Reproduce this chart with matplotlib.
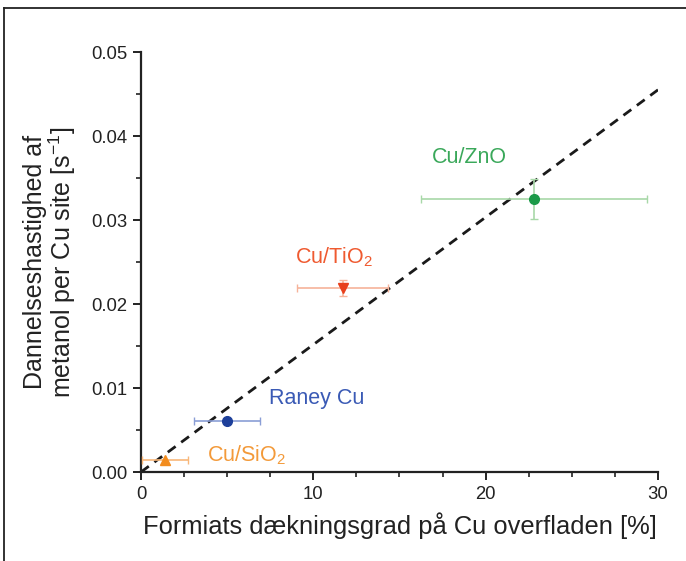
import matplotlib
matplotlib.use("Agg")
import matplotlib.pyplot as plt
from matplotlib.lines import Line2D
from matplotlib.ticker import MultipleLocator, FormatStrFormatter

plt.rcParams['font.family'] = ['Liberation Sans', 'DejaVu Sans']
plt.rcParams['mathtext.default'] = 'regular'

# Data
catalysts = ["Cu/SiO$_2$", "Raney Cu", "Cu/TiO$_2$", "Cu/ZnO"]
coverage = [1.4, 5.0, 11.7, 22.8]
coverage_err = [1.35, 1.9, 2.65, 6.55]
rate = [0.0014, 0.0061, 0.0219, 0.0325]
rate_err = [0.0, 0.0, 0.0009, 0.0024]
markers = ["^", "o", "v", "o"]
marker_colors = ["#f28c1e", "#1d3f9a", "#e8401c", "#1b9a48"]
err_colors = ["#f8b77a", "#8a9ed6", "#f6b39a", "#a8d8a8"]
text_colors = ["#f39a3a", "#3a5ab5", "#ef5a30", "#3aa85a"]
label_pos = [(3.85, 0.0020), (7.4, 0.0087), (8.95, 0.0256), (19.05, 0.0374)]
label_ha = ["left", "left", "left", "center"]
fit_x = [0, 30]
fit_y = [0, 0.0455]

fig = plt.figure(figsize=(6.86, 5.61), dpi=100)
ax = fig.add_axes([0.2055, 0.1586, 0.7537, 0.7487])

ax.plot(fit_x, fit_y, ls=(0, (3.5, 2.5)), color="#1a1a1a", lw=2.0, zorder=2)

for i in range(len(catalysts)):
    ax.errorbar(coverage[i], rate[i], xerr=coverage_err[i],
                yerr=rate_err[i] if rate_err[i] > 0 else None,
                fmt="none", ecolor=err_colors[i], elinewidth=1.2,
                capsize=3, capthick=1.0, zorder=3)
    ax.plot(coverage[i], rate[i], marker=markers[i], color=marker_colors[i],
            ms=7, ls="none", zorder=4)
    ax.text(label_pos[i][0], label_pos[i][1], catalysts[i], color=text_colors[i],
            fontsize=15.5, ha=label_ha[i], va="center")

ax.set_xlim(0, 30)
ax.set_ylim(0, 0.05)
ax.xaxis.set_major_locator(MultipleLocator(10))
ax.xaxis.set_minor_locator(MultipleLocator(2.5))
ax.yaxis.set_major_locator(MultipleLocator(0.01))
ax.yaxis.set_minor_locator(MultipleLocator(0.005))
ax.yaxis.set_major_formatter(FormatStrFormatter('%.2f'))

for s in ["top", "right"]:
    ax.spines[s].set_visible(False)
for s in ["left", "bottom"]:
    ax.spines[s].set_linewidth(1.6)
    ax.spines[s].set_color("#222222")

ax.tick_params(which="major", direction="out", length=6, width=1.4,
               labelsize=13.3, colors="#222222", pad=4)
ax.tick_params(which="minor", direction="out", length=3.5, width=1.2, colors="#222222")

ax.set_xlabel("Formiats dækningsgrad på Cu overfladen [%]", fontsize=18.4, color="#222222", labelpad=7)
ax.set_ylabel("Dannelseshastighed af\nmetanol per Cu site [s$^{-1}$]", fontsize=18,
              color="#222222", labelpad=9, linespacing=1.0)

# outer frame (left and top lines)
fig.add_artist(Line2D([4/686, 4/686], [0, 1 - 8/561], transform=fig.transFigure,
                      color="#222222", lw=1.3))
fig.add_artist(Line2D([4/686, 1], [1 - 8/561, 1 - 8/561], transform=fig.transFigure,
                      color="#222222", lw=1.3))

fig.savefig("out.png", dpi=100)
